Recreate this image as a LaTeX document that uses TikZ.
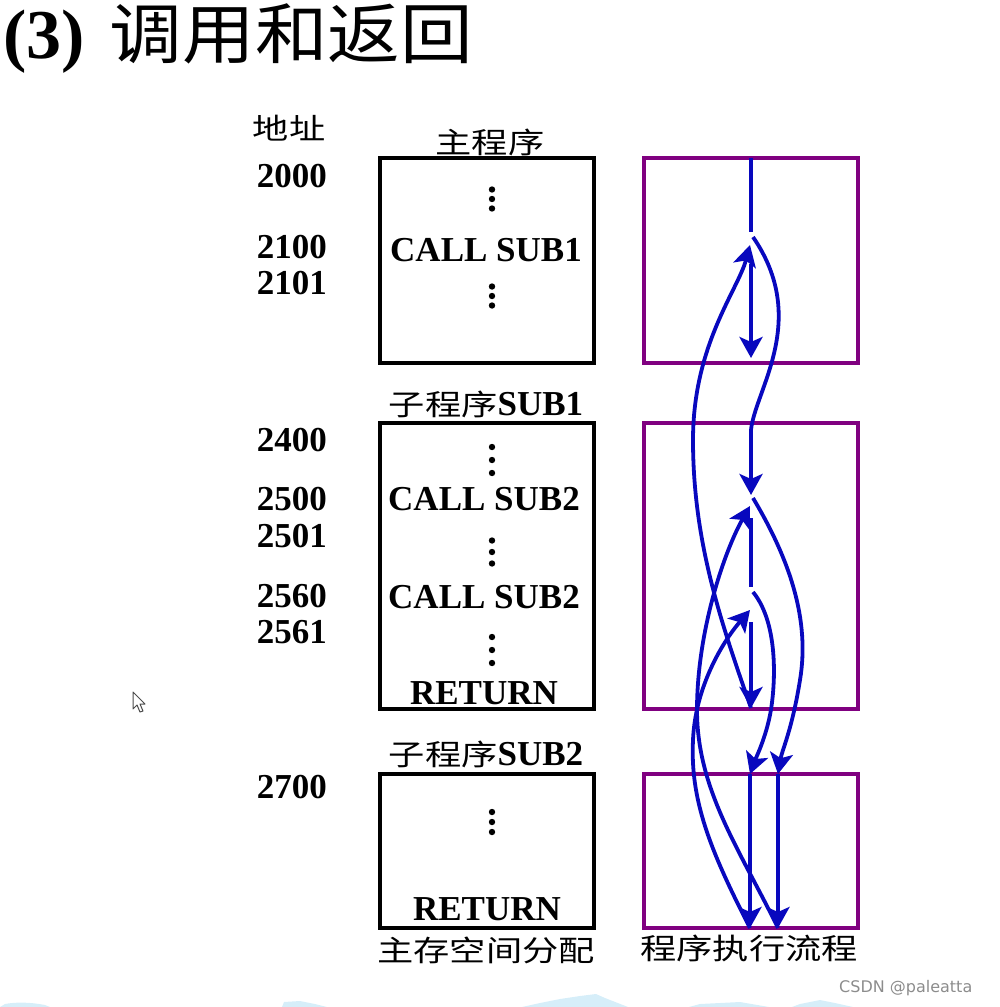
\documentclass[tikz,border=0pt]{standalone}
\usepackage{fontspec}
\setmainfont{Liberation Serif}
\newfontfamily\cjk[FakeStretch=1.25]{Noto Sans CJK SC}
\newfontfamily\cjkt[FakeStretch=1.1]{Noto Sans CJK SC}
\newfontfamily\wmfont{DejaVu Sans}
\usetikzlibrary{arrows.meta}
\definecolor{flowblue}{RGB}{8,8,190}
\definecolor{boxpurple}{RGB}{128,0,128}
\definecolor{blobblue}{RGB}{214,238,249}
\newcommand\threedots[3]{\foreach \k in {-1,0,1} \fill (#1,#2+\k*#3) circle (3.2pt);}
\tikzset{
  mem/.style={draw=black, line width=4pt, minimum width=214pt, inner sep=0pt, outer sep=0pt},
  exe/.style={draw=boxpurple, line width=4pt, minimum width=214pt, inner sep=0pt, outer sep=0pt},
  addr/.style={font=\fontsize{35}{35}\selectfont\bfseries, anchor=base east, inner sep=0pt},
  code/.style={font=\fontsize{35}{35}\selectfont\bfseries, anchor=base, inner sep=0pt},
  lab/.style={font=\fontsize{29}{29}\selectfont\cjk, inner sep=0pt},
  flow/.style={draw=flowblue, line width=3.8pt},
  tip/.style={-{Stealth[length=21pt,width=23pt,inset=5pt]}}
}
\newcommand\sublab[1]{{\fontsize{35}{35}\selectfont\rmfamily\bfseries #1}}
\begin{document}
\begin{tikzpicture}[x=1pt,y=-1pt]
\useasboundingbox (0,0) rectangle (999,1007);
% title
\node[anchor=base west, inner sep=0pt] (title) at (3,58)
  {{\fontsize{70}{70}\selectfont\bfseries (3)}\hspace{25pt}{\fontsize{66}{66}\selectfont\cjkt 调用和返回}};
% memory boxes
\node[mem, minimum height=205pt] (main) at (487,260.5) {};
\node[mem, minimum height=286pt] (sub1) at (487,566) {};
\node[mem, minimum height=154pt] (sub2) at (487,851) {};
% execution boxes
\node[exe, minimum height=205pt] (emain) at (751,260.5) {};
\node[exe, minimum height=286pt] (esub1) at (751,566) {};
\node[exe, minimum height=154pt] (esub2) at (751,851) {};
% labels
\node[lab] (addrlab) at (289,128) {地址};
\node[lab] (mainlab) at (490,142) {主程序};
\node[lab] (sub1lab) at (486,404) {子程序\sublab{SUB1}};
\node[lab] (sub2lab) at (486,754) {子程序\sublab{SUB2}};
\node[lab] (memlab) at (486,950) {主存空间分配};
\node[lab] (exelab) at (749,948) {程序执行流程};
% addresses
\node[addr] (a2000) at (327,187) {2000};
\node[addr] (a2100) at (327,258) {2100};
\node[addr] (a2101) at (327,294) {2101};
\node[addr] (a2400) at (327,451) {2400};
\node[addr] (a2500) at (327,510) {2500};
\node[addr] (a2501) at (327,547) {2501};
\node[addr] (a2560) at (327,607) {2560};
\node[addr] (a2561) at (327,643) {2561};
\node[addr] (a2700) at (327,798) {2700};
% code
\node[code] (call1) at (486,261) {CALL SUB1};
\node[code] (call2) at (484,510) {CALL SUB2};
\node[code] (call3) at (484,608) {CALL SUB2};
\node[code] (ret1) at (484,704) {RETURN};
\node[code] (ret2) at (487,920) {RETURN};
\threedots{492}{199}{9.5}
\threedots{492}{296}{9.5}
\threedots{492}{460}{13}
\threedots{492}{552}{11.5}
\threedots{492}{650}{13}
\threedots{492}{822}{10}
% flow coordinates
\coordinate (m0) at (751,158);
\coordinate (m1) at (751,232);
\coordinate (c1s) at (753,237);
\coordinate (c1e) at (751,430);
\coordinate (p2500) at (751,495);
\coordinate (r1t) at (750,245);
\coordinate (m2) at (751,264);
\coordinate (mend) at (751,358);
\coordinate (c2s) at (753,498);
\coordinate (c2m) at (800,680);
\coordinate (s2a) at (778,774);
\coordinate (s2aend) at (778,928);
\coordinate (r2m) at (697,710);
\coordinate (r2t) at (750,506);
\coordinate (s1m) at (751,518);
\coordinate (s1m2) at (751,587);
\coordinate (c3s) at (753,592);
\coordinate (c3m) at (770,715);
\coordinate (s2b) at (750,774);
\coordinate (s2bend) at (750,928);
\coordinate (r3m) at (693,740);
\coordinate (r3t) at (750,610);
\coordinate (s1m3) at (751,622);
\coordinate (s1end) at (751,708);
\coordinate (r1m) at (693,440);
% flow
\draw[flow] (m0) -- (m1);
\draw[flow,tip] (c1s) .. controls (810,320) and (755,390) .. (c1e) -- (p2500);
\draw[flow,tip] (s1end) .. controls (720,620) and (693,540) .. (r1m) .. controls (693,345) and (738,290) .. (r1t);
\draw[flow,tip] (m2) -- (mend);
\draw[flow,tip] (c2s) .. controls (790,560) and (810,620) .. (c2m) .. controls (792,730) and (782,750) .. (s2a);
\draw[flow,tip] (s2a) -- (s2aend);
\draw[flow,tip] (s2aend) .. controls (740,850) and (697,790) .. (r2m) .. controls (697,630) and (725,550) .. (r2t);
\draw[flow] (s1m) -- (s1m2);
\draw[flow,tip] (c3s) .. controls (780,625) and (775,690) .. (c3m) .. controls (765,740) and (755,760) .. (s2b);
\draw[flow,tip] (s2b) -- (s2bend);
\draw[flow,tip] (s2bend) .. controls (710,850) and (690,800) .. (r3m) .. controls (695,690) and (720,645) .. (r3t);
\draw[flow,tip] (s1m3) -- (s1end);
% cursor
\draw[black!70, fill=white, line width=1pt, line join=round] (133,692) -- (133,709) -- (137,705) -- (140,712) -- (143,711) -- (140,704) -- (145,704) -- cycle;
% background blobs
\fill[blobblue] (0,1007) -- (5,1004) .. controls (15,1002) and (30,1002) .. (45,1005) -- (50,1007) -- cycle;
\fill[blobblue] (282,1007) -- (284,1002) -- (300,1001) -- (315,1004) -- (327,1007) -- cycle;
\fill[blobblue] (522,1007) -- (540,1003) -- (560,999) -- (580,996) -- (596,994) -- (605,998) -- (628,1007) -- cycle;
\fill[blobblue] (689,1007) -- (700,1004) -- (740,1002) -- (769,1007) -- cycle;
\fill[blobblue] (792,1007) -- (800,1004) -- (820,1000) -- (835,1003) -- (853,1007) -- cycle;
% watermark
\node[anchor=base west, inner sep=0pt, text=black!45, font=\wmfont\fontsize{16}{16}\selectfont] (wm) at (839,992) {CSDN @paleatta};
\end{tikzpicture}
\end{document}
